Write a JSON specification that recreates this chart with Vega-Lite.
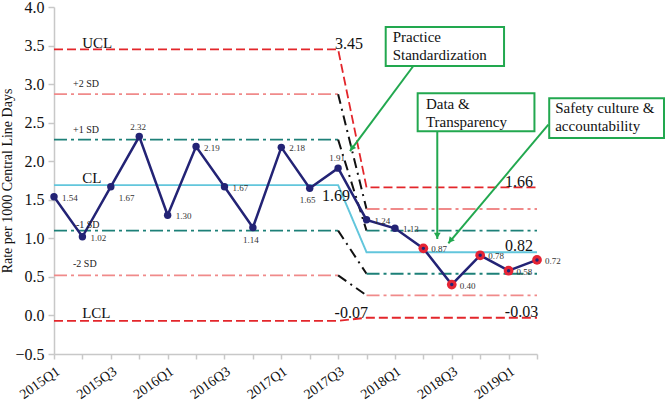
{
  "$schema": "https://vega.github.io/schema/vega-lite/v6.json",
  "width": 483,
  "height": 347,
  "autosize": {"type": "none"},
  "padding": {"left": 54, "top": 7, "right": 129, "bottom": 48},
  "background": "white",
  "config": {
    "view": {"stroke": null},
    "font": "Liberation Serif",
    "axis": {"labelFont": "Liberation Serif", "titleFont": "Liberation Serif", "labelColor": "#111", "titleColor": "#111", "grid": false, "domainColor": "#c8c8c8", "tickColor": "#c8c8c8", "domainWidth": 1.5, "tickWidth": 1.5}
  },
  "datasets": {
    "series": [
      {"i": 0, "v": 1.54}, {"i": 1, "v": 1.02}, {"i": 2, "v": 1.67}, {"i": 3, "v": 2.32},
      {"i": 4, "v": 1.30}, {"i": 5, "v": 2.19}, {"i": 6, "v": 1.67}, {"i": 7, "v": 1.14},
      {"i": 8, "v": 2.18}, {"i": 9, "v": 1.65}, {"i": 10, "v": 1.91}, {"i": 11, "v": 1.24},
      {"i": 12, "v": 1.13}, {"i": 13, "v": 0.87}, {"i": 14, "v": 0.40}, {"i": 15, "v": 0.78},
      {"i": 16, "v": 0.58}, {"i": 17, "v": 0.72}
    ],
    "limits": [
      {"seg": "UCL", "kind": "limit", "i": 0, "v": 3.45}, {"seg": "UCL", "kind": "limit", "i": 10, "v": 3.45}, {"seg": "UCL", "kind": "limit", "i": 11, "v": 1.66}, {"seg": "UCL", "kind": "limit", "i": 17, "v": 1.66},
      {"seg": "LCL", "kind": "limit", "i": 0, "v": -0.07}, {"seg": "LCL", "kind": "limit", "i": 10, "v": -0.07}, {"seg": "LCL", "kind": "limit", "i": 11, "v": -0.03}, {"seg": "LCL", "kind": "limit", "i": 17, "v": -0.03},
      {"seg": "CL", "kind": "cl", "i": 0, "v": 1.69}, {"seg": "CL", "kind": "cl", "i": 10, "v": 1.69}, {"seg": "CL", "kind": "cl", "i": 11, "v": 0.82}, {"seg": "CL", "kind": "cl", "i": 17, "v": 0.82},
      {"seg": "p2a", "kind": "sd2", "i": 0, "v": 2.87}, {"seg": "p2a", "kind": "sd2", "i": 10, "v": 2.87},
      {"seg": "p2s", "kind": "shift", "i": 10, "v": 2.87}, {"seg": "p2s", "kind": "shift", "i": 11, "v": 1.38},
      {"seg": "p2b", "kind": "sd2", "i": 11, "v": 1.38}, {"seg": "p2b", "kind": "sd2", "i": 17, "v": 1.38},
      {"seg": "p1a", "kind": "sd1", "i": 0, "v": 2.28}, {"seg": "p1a", "kind": "sd1", "i": 10, "v": 2.28},
      {"seg": "p1s", "kind": "shift", "i": 10, "v": 2.28}, {"seg": "p1s", "kind": "shift", "i": 11, "v": 1.10},
      {"seg": "p1b", "kind": "sd1", "i": 11, "v": 1.10}, {"seg": "p1b", "kind": "sd1", "i": 17, "v": 1.10},
      {"seg": "m1a", "kind": "sd1", "i": 0, "v": 1.10}, {"seg": "m1a", "kind": "sd1", "i": 10, "v": 1.10},
      {"seg": "m1s", "kind": "shift", "i": 10, "v": 1.10}, {"seg": "m1s", "kind": "shift", "i": 11, "v": 0.54},
      {"seg": "m1b", "kind": "sd1", "i": 11, "v": 0.54}, {"seg": "m1b", "kind": "sd1", "i": 17, "v": 0.54},
      {"seg": "m2a", "kind": "sd2", "i": 0, "v": 0.52}, {"seg": "m2a", "kind": "sd2", "i": 10, "v": 0.52},
      {"seg": "m2s", "kind": "shift", "i": 10, "v": 0.52}, {"seg": "m2s", "kind": "shift", "i": 11, "v": 0.26},
      {"seg": "m2b", "kind": "sd2", "i": 11, "v": 0.26}, {"seg": "m2b", "kind": "sd2", "i": 17, "v": 0.26}
    ],
    "bigNames": [
      {"i": 0.99, "v": 3.47, "t": "UCL"},
      {"i": 0.99, "v": 1.717, "t": "CL"},
      {"i": 0.99, "v": -0.036, "t": "LCL"}
    ],
    "smallNames": [
      {"i": 0.67, "v": 2.968, "t": "+2 SD"},
      {"i": 0.67, "v": 2.362, "t": "+1 SD"},
      {"i": 0.77, "v": 1.131, "t": "-1 SD"},
      {"i": 0.67, "v": 0.625, "t": "-2 SD"}
    ],
    "limitValues": [
      {"i": 10.88, "v": 3.458, "t": "3.45"},
      {"i": 10.42, "v": 1.485, "t": "1.69"},
      {"i": 11.05, "v": -0.036, "t": "-0.07"},
      {"i": 16.86, "v": 1.67, "t": "1.66"},
      {"i": 16.86, "v": 0.841, "t": "0.82"},
      {"i": 17.04, "v": -0.023, "t": "-0.03"}
    ],
    "boxes": [
      {"i": 11.675, "i2": 15.84, "v": 3.742, "v2": 3.235},
      {"i": 12.80, "i2": 16.91, "v": 2.882, "v2": 2.388},
      {"i": 17.43, "i2": 21.47, "v": 2.817, "v2": 2.301}
    ],
    "notes": [
      {"i": 11.92, "v": 3.548, "t": "Practice\nStandardization"},
      {"i": 13.09, "v": 2.672, "t": "Data &\nTransparency"},
      {"i": 17.64, "v": 2.624, "t": "Safety culture &\naccountability"}
    ],
    "arrows": [
      {"i": 12.647, "v": 3.235, "i2": 10.419, "v2": 2.130},
      {"i": 13.49, "v": 2.388, "i2": 13.49, "v2": 0.991},
      {"i": 17.40, "v": 2.474, "i2": 13.88, "v2": 0.935}
    ],
    "heads": [
      {"a": 1, "i": 10.48, "v": 2.165},
      {"a": 2, "i": 13.49, "v": 1.035},
      {"a": 3, "i": 13.95, "v": 0.97}
    ]
  },
  "encoding": {
    "x": {
      "field": "i", "type": "quantitative",
      "scale": {"domain": [0, 17], "nice": false, "zero": false},
      "axis": {
        "title": null,
        "values": [0, 1, 2, 3, 4, 5, 6, 7, 8, 9, 10, 11, 12, 13, 14, 15, 16, 17],
        "labelExpr": "datum.value % 2 == 0 ? (floor(datum.value / 4) + 2015) + 'Q' + (datum.value % 4 + 1) : ''",
        "labelAngle": -35, "labelAlign": "right", "labelBaseline": "top",
        "labelFontSize": 14, "labelPadding": 5, "tickSize": 5,
        "labelFlush": false, "labelOverlap": false, "labelBound": false
      }
    },
    "y": {
      "field": "v", "type": "quantitative",
      "scale": {"domain": [-0.5, 4], "nice": false, "zero": false},
      "axis": {
        "title": "Rate per 1000 Central Line Days",
        "titleFontSize": 14, "titleFontWeight": "normal", "titlePadding": 0,
        "values": [-0.5, 0, 0.5, 1, 1.5, 2, 2.5, 3, 3.5, 4],
        "format": ".1f", "labelFontSize": 16, "tickSize": 6, "labelPadding": 4,
        "labelFlush": false, "labelOverlap": false
      }
    }
  },
  "layer": [
    {
      "data": {"name": "limits"},
      "mark": {"type": "line"},
      "encoding": {
        "detail": {"field": "seg"},
        "color": {"field": "kind", "type": "nominal", "legend": null,
          "scale": {"domain": ["limit", "sd2", "sd1", "cl", "shift"], "range": ["#e3262b", "#f08a8a", "#1d8078", "#62c6dc", "#111111"]}},
        "strokeDash": {"field": "kind", "type": "nominal", "legend": null,
          "scale": {"domain": ["limit", "sd2", "sd1", "cl", "shift"], "range": [[9, 4], [13, 4, 3, 4], [13, 4, 3, 4], [1, 0], [10, 5, 2, 5]]}},
        "strokeWidth": {"field": "kind", "type": "nominal", "legend": null,
          "scale": {"domain": ["limit", "sd2", "sd1", "cl", "shift"], "range": [1.8, 2, 2.4, 2, 2]}}
      }
    },
    {
      "data": {"name": "series"},
      "mark": {"type": "line", "color": "#232375", "strokeWidth": 2.5},
      "encoding": {}
    },
    {
      "data": {"name": "series"},
      "transform": [{"filter": "datum.i < 13"}],
      "mark": {"type": "circle", "color": "#232375", "opacity": 1, "size": 55},
      "encoding": {}
    },
    {
      "data": {"name": "series"},
      "transform": [{"filter": "datum.i >= 13"}],
      "mark": {"type": "circle", "color": "#e52535", "opacity": 1, "size": 95},
      "encoding": {}
    },
    {
      "data": {"name": "series"},
      "transform": [{"filter": "datum.i >= 13"}],
      "mark": {"type": "circle", "color": "#232375", "opacity": 1, "size": 12},
      "encoding": {}
    },
    {
      "data": {"name": "series"},
      "transform": [{"filter": "datum.i != 2 && datum.i != 3 && datum.i != 7 && datum.i != 9 && datum.i != 10"}],
      "mark": {"type": "text", "align": "left", "baseline": "middle", "dx": 8, "dy": 1, "fontSize": 9, "color": "#333"},
      "encoding": {"text": {"field": "v", "type": "quantitative", "format": ".2f"}}
    },
    {
      "data": {"name": "series"},
      "transform": [{"filter": "datum.i == 2"}],
      "mark": {"type": "text", "align": "left", "baseline": "middle", "dx": 8, "dy": 11, "fontSize": 9, "color": "#333"},
      "encoding": {"text": {"field": "v", "type": "quantitative", "format": ".2f"}}
    },
    {
      "data": {"name": "series"},
      "transform": [{"filter": "datum.i == 3 || datum.i == 10"}],
      "mark": {"type": "text", "align": "center", "baseline": "middle", "dx": -1, "dy": -10, "fontSize": 9, "color": "#333"},
      "encoding": {"text": {"field": "v", "type": "quantitative", "format": ".2f"}}
    },
    {
      "data": {"name": "series"},
      "transform": [{"filter": "datum.i == 7 || datum.i == 9"}],
      "mark": {"type": "text", "align": "center", "baseline": "middle", "dx": -2, "dy": 12, "fontSize": 9, "color": "#333"},
      "encoding": {"text": {"field": "v", "type": "quantitative", "format": ".2f"}}
    },
    {
      "data": {"name": "bigNames"},
      "mark": {"type": "text", "align": "left", "baseline": "alphabetic", "fontSize": 15, "color": "#111"},
      "encoding": {"text": {"field": "t"}}
    },
    {
      "data": {"name": "smallNames"},
      "mark": {"type": "text", "align": "left", "baseline": "alphabetic", "fontSize": 10, "color": "#222"},
      "encoding": {"text": {"field": "t"}}
    },
    {
      "data": {"name": "limitValues"},
      "mark": {"type": "text", "align": "right", "baseline": "alphabetic", "fontSize": 16, "color": "#111"},
      "encoding": {"text": {"field": "t"}}
    },
    {
      "data": {"name": "arrows"},
      "mark": {"type": "rule", "color": "#22a84f", "strokeWidth": 2},
      "encoding": {"x2": {"field": "i2"}, "y2": {"field": "v2"}}
    },
    {
      "data": {"name": "heads"},
      "transform": [{"filter": "datum.a == 1"}],
      "mark": {"type": "point", "shape": "triangle-down", "filled": true, "opacity": 1, "color": "#22a84f", "size": 45, "angle": 36},
      "encoding": {}
    },
    {
      "data": {"name": "heads"},
      "transform": [{"filter": "datum.a == 2"}],
      "mark": {"type": "point", "shape": "triangle-down", "filled": true, "opacity": 1, "color": "#22a84f", "size": 45, "angle": 0},
      "encoding": {}
    },
    {
      "data": {"name": "heads"},
      "transform": [{"filter": "datum.a == 3"}],
      "mark": {"type": "point", "shape": "triangle-down", "filled": true, "opacity": 1, "color": "#22a84f", "size": 45, "angle": 40},
      "encoding": {}
    },
    {
      "data": {"name": "boxes"},
      "mark": {"type": "rect", "fill": "white", "stroke": "#22a84f", "strokeWidth": 2},
      "encoding": {"x2": {"field": "i2"}, "y2": {"field": "v2"}}
    },
    {
      "data": {"name": "notes"},
      "mark": {"type": "text", "align": "left", "baseline": "alphabetic", "fontSize": 15, "lineHeight": 18, "lineBreak": "\n", "color": "#111"},
      "encoding": {"text": {"field": "t"}}
    }
  ]
}
